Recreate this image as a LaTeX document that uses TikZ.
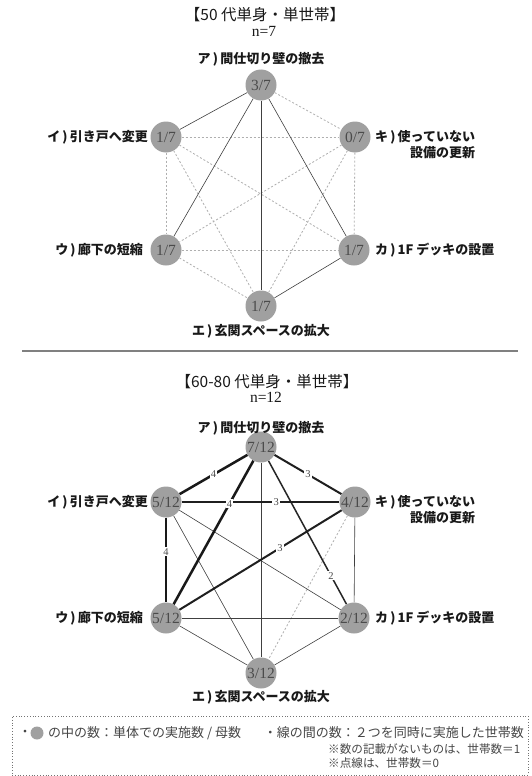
\documentclass[tikz,border=0pt]{standalone}
\usepackage{fontspec}
\setmainfont{Liberation Serif}
\newfontfamily\jp{Noto Sans CJK JP}
\definecolor{nodefill}{RGB}{160,160,160}
\definecolor{numtxt}{RGB}{75,75,75}
\definecolor{dashc}{RGB}{175,175,175}
\definecolor{txt}{RGB}{25,25,25}
\definecolor{legtxt}{RGB}{70,70,70}
\begin{document}
\begin{tikzpicture}[x=1pt,y=-1pt,
  vtx/.style={circle,fill=nodefill,minimum size=31pt,inner sep=0pt,text=numtxt,font=\fontsize{15.5}{15.5}\selectfont},
  lab/.style={font=\jp\bfseries\fontsize{13}{16}\selectfont,text=txt,inner sep=0pt},
  ttl/.style={font=\jp\fontsize{15.5}{16}\selectfont,text=txt,inner sep=0pt},
  nn/.style={font=\fontsize{15.5}{16}\selectfont,text=txt,inner sep=0pt},
  ezero/.style={draw=dashc,line width=0.8pt,dash pattern=on 2pt off 2pt},
  eone/.style={draw=black!75,line width=0.6pt},
  etwo/.style={draw=black!85,line width=1.5pt},
  ethree/.style={draw=black!88,line width=2pt},
  efour/.style={draw=black!90,line width=2.5pt},
  elab/.style={fill=white,inner sep=1.2pt,font=\fontsize{10.5}{10.5}\selectfont,text=numtxt},
  leg/.style={font=\jp\fontsize{13}{15}\selectfont,text=legtxt,inner sep=0pt},
  legs/.style={font=\jp\fontsize{11.6}{14}\selectfont,text=legtxt,inner sep=0pt},
]
\useasboundingbox (0,0) rectangle (531,776);
\fill[white] (0,0) rectangle (531,776);

% ---------- top graph ----------
\node[ttl] (t1) at (265,15) {【50 代単身・単世帯】};
\node[nn] (n1) at (264,31) {n=7};

\node[vtx] (a1) at (261,85) {3/7};
\node[vtx] (i1) at (166,137) {1/7};
\node[vtx] (k1) at (355,137) {0/7};
\node[vtx] (u1) at (166,250) {1/7};
\node[vtx] (c1) at (354,250) {1/7};
\node[vtx] (e1) at (261,306) {1/7};

\node[lab] (la1) at (261,59) {ア\,)\,間仕切り壁の撤去};
\node[lab,anchor=east] (li1) at (148,137) {イ\,)\,引き戸へ変更};
\node[lab,anchor=west,align=right] (lk1) at (375,145) {キ\,)\,使っていない\\設備の更新};
\node[lab,anchor=east] (lu1) at (143,250) {ウ\,)\,廊下の短縮};
\node[lab,anchor=west] (lc1) at (375,250) {カ\,)\,1F デッキの設置};
\node[lab] (le1) at (261,331) {エ\,)\,玄関スペースの拡大};

\draw[ezero] (a1) -- (k1);
\draw[ezero] (i1) -- (k1);
\draw[ezero] (i1) -- (u1);
\draw[ezero] (i1) -- (e1);
\draw[ezero] (i1) -- (c1);
\draw[ezero] (k1) -- (u1);
\draw[ezero] (k1) -- (c1);
\draw[ezero] (k1) -- (e1);
\draw[ezero] (u1) -- (c1);
\draw[ezero] (u1) -- (e1);
\draw[eone] (a1) -- (i1);
\draw[eone] (a1) -- (u1);
\draw[eone] (a1) -- (e1);
\draw[eone] (a1) -- (c1);
\draw[eone] (e1) -- (c1);

% separator
\coordinate (s1) at (22,351);
\coordinate (s2) at (518,351);
\draw[draw=black!50,line width=1.2pt] (s1) -- (s2);

% ---------- bottom graph ----------
\node[ttl] (t2) at (267,382) {【60-80 代単身・単世帯】};
\node[nn] (n2) at (266,397) {n=12};

\node[vtx] (a2) at (261,447) {7/12};
\node[vtx] (i2) at (166,502) {5/12};
\node[vtx] (k2) at (355,502) {4/12};
\node[vtx] (u2) at (166,618) {5/12};
\node[vtx] (c2) at (354,618) {2/12};
\node[vtx] (e2) at (261,673) {3/12};

\node[lab] (la2) at (261,428) {ア\,)\,間仕切り壁の撤去};
\node[lab,anchor=east] (li2) at (148,502) {イ\,)\,引き戸へ変更};
\node[lab,anchor=west,align=right] (lk2) at (375,510) {キ\,)\,使っていない\\設備の更新};
\node[lab,anchor=east] (lu2) at (143,618) {ウ\,)\,廊下の短縮};
\node[lab,anchor=west] (lc2) at (375,618) {カ\,)\,1F デッキの設置};
\node[lab] (le2) at (261,697) {エ\,)\,玄関スペースの拡大};

\draw[ezero] (k2) -- (e2);
\draw[eone] (a2) -- (e2);
\draw[eone] (i2) -- (e2);
\draw[eone] (i2) -- (c2);
\draw[eone] (u2) -- (c2);
\draw[eone] (u2) -- (e2);
\draw[eone] (e2) -- (c2);
\draw[eone] (k2) -- (c2);
\draw[etwo] (a2) -- node[elab,pos=0.8] {2} (c2);
\draw[ethree] (a2) -- node[elab,pos=0.5] {3} (k2);
\draw[ethree] (i2) -- node[elab,pos=0.6] {3} (k2);
\draw[ethree] (u2) -- node[elab,pos=0.62] {3} (k2);
\draw[efour] (a2) -- node[elab,pos=0.5] {4} (i2);
\draw[efour] (a2) -- node[elab,pos=0.3] {4} (u2);
\draw[efour] (i2) -- node[elab,pos=0.4] {4} (u2);

% ---------- legend ----------
\node[draw=black!55,dotted,line width=0.8pt,minimum width=516pt,minimum height=59pt,inner sep=0pt] (box) at (270,745.5) {};
\node[leg] (b1) at (25,733) {・};
\node[circle,fill=nodefill,minimum size=13pt,inner sep=0pt] (dot) at (37,733) {};
\node[leg,anchor=west] (l1) at (48,733) {の中の数：単体での実施数 / 母数};
\node[leg,anchor=east] (l2) at (524,733) {・線の間の数：２つを同時に実施した世帯数};
\node[legs,anchor=west] (l3) at (328,749) {※数の記載がないものは、世帯数＝1};
\node[legs,anchor=west] (l4) at (328,763) {※点線は、世帯数＝0};
\end{tikzpicture}
\end{document}
